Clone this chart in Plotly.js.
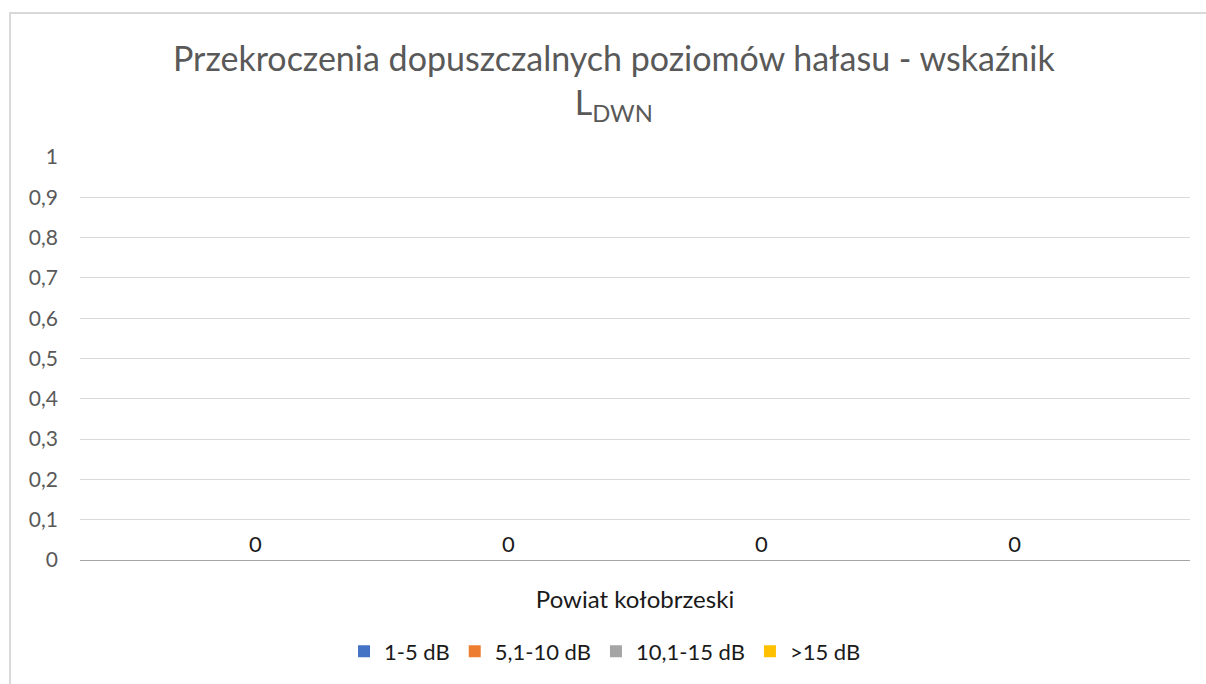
<!DOCTYPE html>
<html>
<head>
<meta charset="utf-8">
<script src="https://cdn.plot.ly/plotly-3.0.1.min.js"></script>
<style>
  html, body { margin: 0; padding: 0; background: #ffffff; }
  #wrap { position: relative; width: 1206px; height: 684px; overflow: hidden; }
  #chart { position: absolute; left: 0; top: 0; width: 1206px; height: 684px; }
  #frame { position: absolute; left: 9px; top: 12px; width: 1300px; height: 800px;
           border-left: 2px solid #d9d9d9; border-top: 2px solid #d9d9d9; pointer-events: none; }
</style>
</head>
<body>
<div id="wrap">
  <div id="chart"></div>
  <div id="frame"></div>
</div>
<script>
// ---- data ----
const categories = ['Powiat kołobrzeski'];
const seriesNames = ['1-5 dB', '5,1-10 dB', '10,1-15 dB', '>15 dB'];
const values_1_5 = [0];
const values_5_10 = [0];
const values_10_15 = [0];
const values_15_plus = [0];
const yTickValues = [0, 0.1, 0.2, 0.3, 0.4, 0.5, 0.6, 0.7, 0.8, 0.9, 1];

const seriesValues = [values_1_5, values_5_10, values_10_15, values_15_plus];
const seriesColors = ['#4472C4', '#ED7D31', '#A5A5A5', '#FFC000'];
const FONT = 'Lato, "Open Sans", "Noto Sans", sans-serif';

const traces = seriesNames.map((name, i) => ({
  type: 'bar',
  name: name,
  x: categories,
  y: seriesValues[i],
  marker: { color: seriesColors[i] },
  text: seriesValues[i].map(v => String(v)),
  textposition: 'outside',
  cliponaxis: false,
  textfont: { family: FONT, size: 22, color: '#1a1a1a' },
  hoverinfo: 'skip'
}));

const layout = {
  width: 1206,
  height: 684,
  paper_bgcolor: '#ffffff',
  plot_bgcolor: '#ffffff',
  separators: ', ',
  font: { family: FONT, color: '#595959' },
  margin: { l: 80, r: 16, t: 157, b: 121 },
  title: {
    text: 'Przekroczenia dopuszczalnych poziomów hałasu - wskaźnik<br>L<sub>DWN</sub>',
    font: { family: FONT, size: 34, color: '#595959' },
    x: 0.509, xanchor: 'center',
    y: 1 - 71 / 684, yanchor: 'top', yref: 'container'
  },
  barmode: 'group',
  bargap: 0.088,
  bargroupgap: 0,
  xaxis: {
    type: 'category',
    showgrid: false,
    showline: true,
    linecolor: '#a6a6a6',
    linewidth: 1,
    ticks: '',
    ticklabelstandoff: 18,
    tickfont: { family: FONT, size: 24, color: '#1a1a1a' },
    zeroline: false
  },
  yaxis: {
    range: [0, 1],
    tickvals: yTickValues,
    showgrid: true,
    gridcolor: '#d9d9d9',
    gridwidth: 1,
    zeroline: false,
    showline: false,
    ticks: '',
    ticklabelstandoff: 21,
    tickfont: { family: FONT, size: 21, color: '#595959' }
  },
  showlegend: true,
  legend: {
    orientation: 'h',
    x: 0.473, xanchor: 'center',
    y: -0.227, yanchor: 'middle',
    font: { family: FONT, size: 22, color: '#1a1a1a' },
    traceorder: 'normal',
    itemwidth: 30
  }
};

Plotly.newPlot('chart', traces, layout, { displayModeBar: false, staticPlot: true });
</script>
</body>
</html>
